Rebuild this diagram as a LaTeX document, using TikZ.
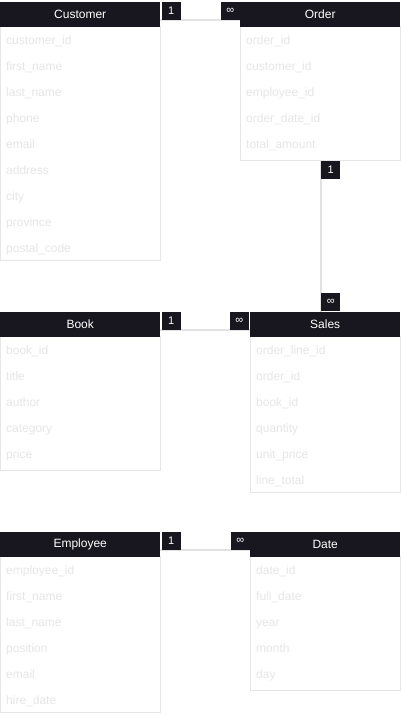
\documentclass[tikz,border=0pt]{standalone}
\usepackage{fontspec}
\setmainfont{Liberation Sans}
\usetikzlibrary{positioning, calc}

\definecolor{headbg}{HTML}{18161E}
\definecolor{fieldtxt}{HTML}{E6E6E6}
\definecolor{framegray}{HTML}{E6E6E6}
\definecolor{linkgray}{HTML}{E2E2E2}

\tikzset{
    tblhead/.style={fill=headbg, text=white, font=\fontsize{12}{14}\selectfont,
        inner sep=0pt, minimum height=25pt, anchor=north west},
    field/.style={text=fieldtxt, font=\fontsize{12}{14}\selectfont,
        inner sep=0pt, anchor=base west},
    tblframe/.style={draw=framegray, line width=0.8pt},
    card/.style={fill=headbg, text=white, font=\fontsize{11}{12}\selectfont,
        inner sep=0pt, minimum width=19pt, minimum height=18pt},
    link/.style={draw=linkgray, line width=1.6pt}
}

\begin{document}
\begin{tikzpicture}[x=1pt, y=-1pt]
    \useasboundingbox[fill=white] (0,0) rectangle (401,716);

    % table frames
    \draw[tblframe] (0,26) rectangle (160,260);
    \draw[tblframe] (240,26) rectangle (400,160);
    \draw[tblframe] (0,336) rectangle (160,470);
    \draw[tblframe] (250,336) rectangle (400,492);
    \draw[tblframe] (0,556) rectangle (160,712);
    \draw[tblframe] (250,556) rectangle (400,690);

    % headers
    \node[tblhead, minimum width=160pt] (customer) at (0,1.5) {Customer};
    \node[tblhead, minimum width=160pt] (order) at (240,1.5) {Order};
    \node[tblhead, minimum width=160pt] (book) at (0,311.5) {Book};
    \node[tblhead, minimum width=150pt] (sales) at (250,311.5) {Sales};
    \node[tblhead, minimum width=160pt] (employee) at (0,531.5) {Employee};
    \node[tblhead, minimum width=150pt] (date) at (250,531.5) {Date};

    % fields
    \foreach \f [count=\i] in {customer\_id, first\_name, last\_name, phone,
        email, address, city, province, postal\_code}
        \node[field] (customer-\i) at ([xshift=6pt, yshift={-(26*\i-8)*1pt}]customer.south west) {\f};
    \foreach \f [count=\i] in {order\_id, customer\_id, employee\_id,
        order\_date\_id, total\_amount}
        \node[field] (order-\i) at ([xshift=6pt, yshift={-(26*\i-8)*1pt}]order.south west) {\f};
    \foreach \f [count=\i] in {book\_id, title, author, category, price}
        \node[field] (book-\i) at ([xshift=6pt, yshift={-(26*\i-8)*1pt}]book.south west) {\f};
    \foreach \f [count=\i] in {order\_line\_id, order\_id, book\_id, quantity,
        unit\_price, line\_total}
        \node[field] (sales-\i) at ([xshift=6pt, yshift={-(26*\i-8)*1pt}]sales.south west) {\f};
    \foreach \f [count=\i] in {employee\_id, first\_name, last\_name, position,
        email, hire\_date}
        \node[field] (employee-\i) at ([xshift=6pt, yshift={-(26*\i-8)*1pt}]employee.south west) {\f};
    \foreach \f [count=\i] in {date\_id, full\_date, year, month, day}
        \node[field] (date-\i) at ([xshift=6pt, yshift={-(26*\i-8)*1pt}]date.south west) {\f};

    % relations
    \draw[link] ([yshift=-6pt]customer.east) -- ([yshift=-6pt]order.west);
    \draw[link] ([yshift=-6pt]book.east) -- ([yshift=-6pt]sales.west);
    \draw[link] ([yshift=-6pt]employee.east) -- ([yshift=-6pt]date.west);
    \coordinate (order-bot) at (321,160);
    \draw[link] (order-bot) -- (order-bot |- sales.north);

    % cardinalities
    \node[card, anchor=north west] (cust-one) at ([xshift=1pt]customer.north east) {1};
    \node[card, anchor=north east] (order-many) at (order.north west) {∞};
    \node[card, anchor=north west] (order-one) at ([yshift=-1pt]order-bot) {1};
    \node[card, anchor=south west] (sales-many) at (order-bot |- sales.north) {∞};
    \node[card, anchor=north west] (book-one) at ([xshift=1pt]book.north east) {1};
    \node[card, anchor=north east] (sales-many-b) at ([xshift=-1pt]sales.north west) {∞};
    \node[card, anchor=north west] (emp-one) at ([xshift=1pt]employee.north east) {1};
    \node[card, anchor=north east] (date-many) at (date.north west) {∞};
\end{tikzpicture}
\end{document}
